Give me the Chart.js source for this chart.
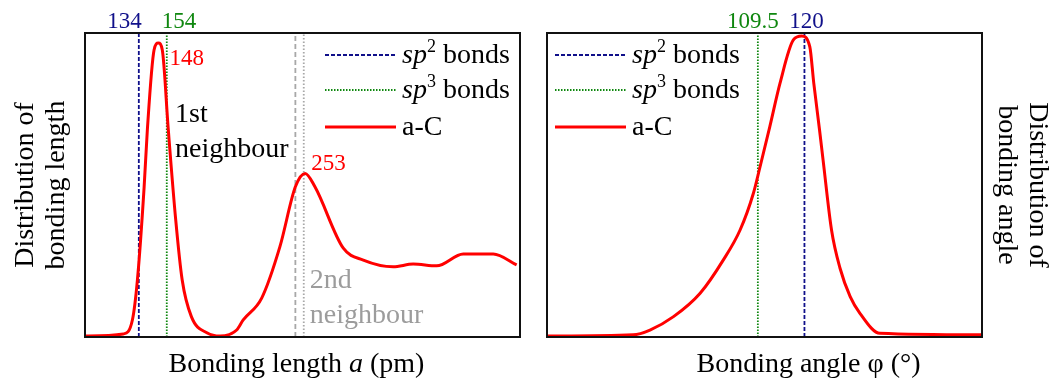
<!DOCTYPE html>
<html lang="en">
<head>
<meta charset="UTF-8">
<title>a-C bond length and bond angle distribution</title>
<script src="https://cdn.jsdelivr.net/npm/chart.js"></script>
<style>
  html, body { margin: 0; padding: 0; background: #fff; }
  #wrap { position: relative; width: 1055px; height: 378px; }
  canvas { position: absolute; top: 0; }
  #lengthChart { left: 0; }
  #angleChart { left: 530px; }
</style>
</head>
<body>
<div id="wrap">
  <canvas id="lengthChart" width="530" height="378"></canvas>
  <canvas id="angleChart" width="525" height="378"></canvas>
</div>
<script>
// bond length distribution of a-C (pm, arbitrary units)
const lengthX = [95.5, 122.9, 129.4, 133.0, 137.8, 140.1, 144.9, 148, 150.8, 155.1, 160.4, 165, 171.6,
                 183, 192.1, 204, 208.7, 221.9, 235, 246, 253, 260, 280.3, 294.6, 316, 330.3, 347.1,
                 366.1, 387.6, 404.3];
const lengthY = [0.3, 1.0, 5.6, 18.8, 49.3, 68.1, 94.4, 96.7, 94.4, 68.1, 38.5, 18.8, 6.7,
                 1.3, 0.3, 2.3, 5.6, 12.8, 29.8, 49.4, 53.8, 49.4, 29.2, 25.3, 23.1, 24.0, 23.4,
                 27.3, 27.3, 23.7];
const lengthPeaks = [148, 253];
const lengthFirst = [134, 154];   // sp2, sp3 bond length
const lengthSecond = [246, 252];  // sp2, sp3 second neighbour distance

// bond angle distribution of a-C (degrees, arbitrary units)
const angleX = [62, 81.4, 85.2, 90.5, 96.5, 101.7, 105.5, 108.5, 110, 112.2, 114.5, 117.5, 119.4,
                121.2, 122.1, 123.4, 124.2, 126.1, 128, 130.3, 132.5, 137, 160];
const angleY = [0.3, 0.7, 2.3, 6.7, 14.4, 25.3, 35.2, 47.3, 56.0, 69.2, 83.5, 97.7, 99.0,
                95.5, 83.5, 68.1, 58.2, 35.2, 22.7, 13.3, 7.8, 1.2, 0.7];
const angleRefs = [120, 109.5];   // sp2, sp3 bond angle

const SERIF = "'Liberation Serif', 'Times New Roman', serif";
const RED = '#ff0000';
const NAVY = '#10108a';
const GREEN = '#0f870f';
const GREY = '#a8a8a8';

const zip = (xs, ys) => xs.map((x, i) => ({ x: x, y: ys[i] }));
const vline = x => [{ x: x, y: 0 }, { x: x, y: 100 }];

function curve(data) {
  return { data: data, borderColor: RED, borderWidth: 3, pointRadius: 0,
           cubicInterpolationMode: 'monotone' };
}
function refLine(x, color, dash) {
  return { data: vline(x), borderColor: color, borderWidth: 1.8, borderDash: dash, pointRadius: 0 };
}

// text made of runs: [text, style] with style '' | 'i' (italic) | 'sup' (superscript)
function runFont(st, size) {
  if (st === 'i') return `italic ${size}px ${SERIF}`;
  if (st === 'sup') return `${Math.round(size * 0.64)}px ${SERIF}`;
  return `${size}px ${SERIF}`;
}
function richWidth(ctx, runs, size) {
  let w = 0;
  runs.forEach(([t, st]) => {
    ctx.font = runFont(st, size);
    w += ctx.measureText(t).width;
  });
  return w;
}
function drawRich(ctx, runs, x, y, size, align, color) {
  let cx = x;
  if (align === 'center') cx -= richWidth(ctx, runs, size) / 2;
  ctx.fillStyle = color;
  ctx.textAlign = 'left';
  ctx.textBaseline = 'alphabetic';
  runs.forEach(([t, st]) => {
    ctx.font = runFont(st, size);
    ctx.fillText(t, cx, st === 'sup' ? y - size * 0.4 : y);
    cx += ctx.measureText(t).width;
  });
}

function text(ctx, t, x, y, size, color, align) {
  ctx.font = `${size}px ${SERIF}`;
  ctx.fillStyle = color;
  ctx.textAlign = align || 'left';
  ctx.textBaseline = 'alphabetic';
  ctx.fillText(t, x, y);
}

const sp2 = [['sp', 'i'], ['2', 'sup'], [' bonds', '']];
const sp3 = [['sp', 'i'], ['3', 'sup'], [' bonds', '']];
const aC = [['a-C', '']];

// frame, legend, marker values and free labels for one panel
function panelPlugin(cfg) {
  return {
    id: 'panel_' + cfg.name,
    afterDatasetsDraw(chart) {
      const ctx = chart.ctx;
      const a = chart.chartArea;
      const xs = chart.scales.x, ys = chart.scales.y;
      ctx.save();

      ctx.lineWidth = 2;
      ctx.strokeStyle = '#111';
      ctx.setLineDash([]);
      ctx.strokeRect(a.left, a.top, a.right - a.left, a.bottom - a.top);

      // values written above the frame
      cfg.marks.forEach(m => {
        text(ctx, m.label, xs.getPixelForValue(m.value) + m.dx, a.top - 5, 23, m.color, m.align);
      });

      // peak values next to the curve
      cfg.peaks.forEach(p => {
        const px = xs.getPixelForValue(p.value);
        const py = ys.getPixelForValue(p.height);
        text(ctx, String(p.value), px + p.dx, py + p.dy, 23, RED, 'left');
      });

      // legend
      const rows = [
        { runs: sp2, color: NAVY, dash: [4, 2], width: 1.8, dy: 22 },
        { runs: sp3, color: GREEN, dash: [1.5, 1.5], width: 1.8, dy: 57 },
        { runs: aC, color: RED, dash: [], width: 3, dy: 94 }
      ];
      rows.forEach(r => {
        ctx.beginPath();
        ctx.setLineDash(r.dash);
        ctx.lineWidth = r.width;
        ctx.strokeStyle = r.color;
        ctx.moveTo(a.left + cfg.legendX, a.top + r.dy);
        ctx.lineTo(a.left + cfg.legendX + 71, a.top + r.dy);
        ctx.stroke();
        drawRich(ctx, r.runs, a.left + cfg.legendX + 77, a.top + r.dy + 8, 28, 'left', '#000');
      });
      ctx.setLineDash([]);

      cfg.notes.forEach(n => {
        const x = n.at !== undefined ? xs.getPixelForValue(n.at) + n.dx : a.left + n.dx;
        text(ctx, n.text, x, n.fromBottom ? a.bottom + n.dy : a.top + n.dy, 28, n.color, 'left');
      });

      // x axis title
      drawRich(ctx, cfg.xTitle, (a.left + a.right) / 2 + cfg.xTitleShift, a.bottom + 35, 28, 'center', '#000');
      ctx.restore();
    }
  };
}

function axes(min, max, yPos, yWidth, yTitle, titlePad) {
  return {
    x: {
      type: 'linear', min: min, max: max,
      ticks: { display: false }, grid: { display: false }, border: { display: false },
      afterFit: s => { s.height = 41; }
    },
    y: {
      position: yPos, min: 0, max: 100,
      ticks: { display: false }, grid: { display: false }, border: { display: false },
      title: { display: true, text: yTitle, color: '#000',
               font: { family: SERIF, size: 28, lineHeight: 1.1 },
               padding: { top: titlePad, bottom: 0 } },
      afterFit: s => { s.width = yWidth; }
    }
  };
}

const peakHeight = v => lengthY[lengthX.indexOf(v)];

new Chart(document.getElementById('lengthChart'), {
  type: 'line',
  data: {
    datasets: [
      curve(zip(lengthX, lengthY)),
      refLine(lengthFirst[0], NAVY, [4, 2]),
      refLine(lengthFirst[1], GREEN, [1.5, 1.5]),
      refLine(lengthSecond[0], GREY, [5, 3]),
      refLine(lengthSecond[1], GREY, [1.5, 2])
    ]
  },
  options: {
    responsive: false,
    animation: false,
    layout: { padding: { top: 33, right: 10, bottom: 0, left: 0 } },
    plugins: { legend: { display: false }, tooltip: { enabled: false } },
    scales: axes(95.5, 406.7, 'left', 85, ['Distribution of', 'bonding length'], 10)
  },
  plugins: [panelPlugin({
    name: 'length',
    legendX: 240,
    marks: [
      { value: lengthFirst[0], label: String(lengthFirst[0]), color: NAVY, align: 'right', dx: 3 },
      { value: lengthFirst[1], label: String(lengthFirst[1]), color: GREEN, align: 'left', dx: -5 }
    ],
    peaks: [
      { value: lengthPeaks[0], height: peakHeight(lengthPeaks[0]), dx: 11, dy: 22 },
      { value: lengthPeaks[1], height: peakHeight(lengthPeaks[1]), dx: 6, dy: -3 }
    ],
    notes: [
      { text: '1st', dx: 90, dy: 89, color: '#000' },
      { text: 'neighbour', dx: 90, dy: 124, color: '#000' },
      { text: '2nd', at: lengthSecond[1], dx: 6, dy: -49, fromBottom: true, color: '#9c9c9c' },
      { text: 'neighbour', at: lengthSecond[1], dx: 6, dy: -14, fromBottom: true, color: '#9c9c9c' }
    ],
    xTitle: [['Bonding length ', ''], ['a', 'i'], [' (pm)', '']],
    xTitleShift: -6
  })]
});

new Chart(document.getElementById('angleChart'), {
  type: 'line',
  data: {
    datasets: [
      curve(zip(angleX, angleY)),
      refLine(angleRefs[0], NAVY, [4, 2]),
      refLine(angleRefs[1], GREEN, [1.5, 1.5])
    ]
  },
  options: {
    responsive: false,
    animation: false,
    layout: { padding: { top: 33, right: 0, bottom: 0, left: 17 } },
    plugins: { legend: { display: false }, tooltip: { enabled: false } },
    scales: axes(62, 160, 'right', 73, ['Distribution of', 'bonding angle'], 2)
  },
  plugins: [panelPlugin({
    name: 'angle',
    legendX: 8,
    marks: [
      { value: angleRefs[1], label: String(angleRefs[1]), color: GREEN, align: 'center', dx: -5 },
      { value: angleRefs[0], label: String(angleRefs[0]), color: NAVY, align: 'center', dx: 2 }
    ],
    peaks: [],
    notes: [],
    xTitle: [['Bonding angle φ (°)', '']],
    xTitleShift: 44
  })]
});
</script>
</body>
</html>
